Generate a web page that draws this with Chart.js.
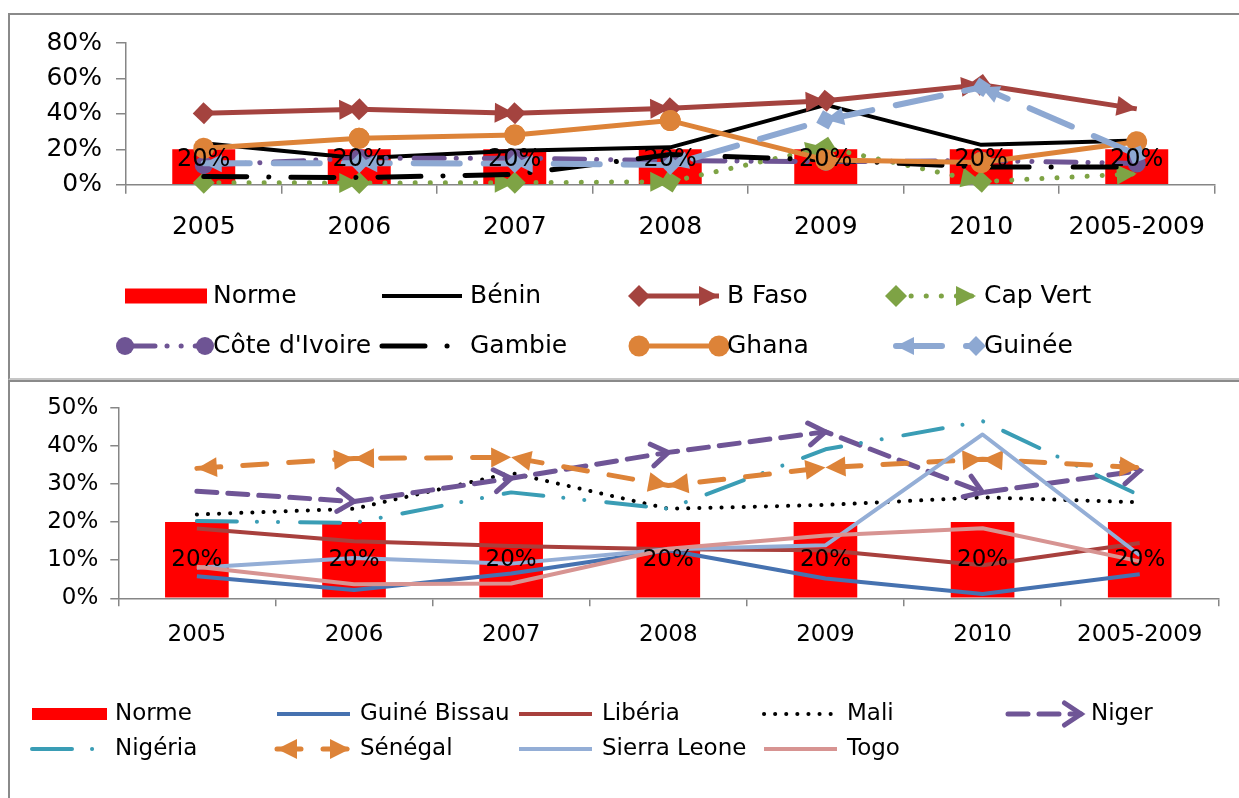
<!DOCTYPE html>
<html>
<head>
<meta charset="utf-8">
<script src="https://cdn.jsdelivr.net/npm/chart.js@4/dist/chart.umd.min.js"></script>
<style>
  html, body { margin: 0; padding: 0; background: #fff; }
  body { width: 1239px; height: 798px; position: relative; overflow: hidden; }
  .panel { position: absolute; box-sizing: border-box; background: #fff; }
  #p1 { left: 8px; top: 13px; width: 1270px; height: 367px;
        border-top: 2px solid #8a8a8a; border-left: 2px solid #8a8a8a; border-bottom: 2px solid #c6c6c6; }
  #p2 { left: 8px; top: 380px; width: 1270px; height: 440px;
        border-top: 2px solid #8a8a8a; border-left: 2px solid #8a8a8a; }
  canvas { position: absolute; left: 0; }
  #c1 { top: 0; width: 1239px; height: 380px; }
  #c2 { top: 382px; width: 1239px; height: 416px; }
</style>
</head>
<body>
<div class="panel" id="p1"></div>
<div class="panel" id="p2"></div>
<canvas id="c1" width="1239" height="380"></canvas>
<canvas id="c2" width="1239" height="416"></canvas>
<script>
// Categories (years) shared by both panels
const years = ['2005', '2006', '2007', '2008', '2009', '2010', '2005-2009'];

// Reference level (bars), in percent
const norme = [20, 20, 20, 20, 20, 20, 20];

// Upper panel series, in percent
const benin      = [23.4, 14.9, 19.2, 21.1, 45.1, 22.5, 24.9];
const bFaso      = [40.4, 42.6, 40.4, 43.2, 47.4, 56.4, 42.8];
const capVert    = [1.1, 1.0, 1.1, 1.7, 21.0, 1.7, 6.2];
const coteIvoire = [11.0, 15.0, 15.0, 13.6, 13.0, 13.6, 12.0];
const gambie     = [4.6, 4.0, 5.8, 17.0, 14.0, 10.0, 10.0];
const ghana      = [20.6, 26.2, 28.1, 36.2, 14.0, 12.5, 24.3];
const guinee     = [12.1, 12.1, 12.0, 11.1, 36.6, 55.0, 17.0];

// Lower panel series, in percent
const guineBissau = [5.8, 2.2, 6.5, 12.6, 5.2, 1.1, 6.3];
const liberia     = [18.3, 15.0, 13.7, 12.9, 12.6, 8.7, 14.5];
const mali        = [22.0, 23.5, 32.9, 23.5, 24.5, 26.5, 25.2];
const niger       = [28.1, 25.4, 31.5, 38.3, 43.7, 27.8, 33.5];
const nigeria     = [20.3, 19.8, 27.8, 23.5, 39.1, 46.5, 27.0];
const senegal     = [34.1, 36.7, 37.0, 29.6, 34.3, 36.5, 34.3];
const sierraLeone = [8.0, 10.6, 9.1, 12.9, 13.9, 43.0, 11.3];
const togo        = [8.3, 3.7, 3.9, 13.0, 16.5, 18.4, 9.7];

// Axis tick values
const topTicks = [0, 20, 40, 60, 80];
const bottomTicks = [0, 10, 20, 30, 40, 50];

const FONT = 'DejaVu Sans';
const AXIS = '#868686';

// ---- shapes drawn at segment ends (begin / end decorations) ----
function drawCap(ctx, kind, x, y, ang, color, lw, size) {
  if (!kind) return;
  ctx.save();
  ctx.translate(x, y);
  ctx.rotate(ang);
  ctx.setLineDash([]);
  ctx.fillStyle = color;
  ctx.strokeStyle = color;
  ctx.beginPath();
  if (kind === 'triangle') {
    const L = size, W = size * 0.5;
    ctx.moveTo(0, 0); ctx.lineTo(-L, -W); ctx.lineTo(-L, W); ctx.closePath(); ctx.fill();
  } else if (kind === 'diamond') {
    const s = size * 0.55;
    ctx.moveTo(s, 0); ctx.lineTo(0, -s); ctx.lineTo(-s, 0); ctx.lineTo(0, s); ctx.closePath(); ctx.fill();
  } else if (kind === 'oval') {
    ctx.arc(0, 0, size * 0.5, 0, Math.PI * 2); ctx.fill();
  } else if (kind === 'open') {
    const L = size * 0.75, W = size * 0.5;
    ctx.lineWidth = lw; ctx.lineJoin = 'miter'; ctx.lineCap = 'round';
    ctx.moveTo(-L, -W); ctx.lineTo(0, 0); ctx.lineTo(-L, W); ctx.stroke();
  }
  ctx.restore();
}

const segmentCaps = {
  id: 'segmentCaps',
  afterDatasetDraw(chart, args) {
    const ds = chart.data.datasets[args.index];
    if (!ds.caps) return;
    const pts = args.meta.data;
    const ctx = chart.ctx;
    for (let i = 0; i < pts.length - 1; i++) {
      const a = pts[i], b = pts[i + 1];
      const ang = Math.atan2(b.y - a.y, b.x - a.x);
      drawCap(ctx, ds.caps.begin, a.x, a.y, ang + Math.PI, ds.borderColor, ds.borderWidth, ds.caps.size);
      drawCap(ctx, ds.caps.end, b.x, b.y, ang, ds.borderColor, ds.borderWidth, ds.caps.size);
    }
  }
};

// value labels on the bars
const barLabels = {
  id: 'barLabels',
  afterDatasetsDraw(chart, args, opts) {
    const ctx = chart.ctx;
    chart.data.datasets.forEach((ds, di) => {
      if (ds.type !== 'bar') return;
      const meta = chart.getDatasetMeta(di);
      meta.data.forEach((bar, i) => {
        ctx.save();
        ctx.font = `${opts.size}px "${FONT}"`;
        ctx.fillStyle = '#000';
        ctx.textAlign = 'center';
        ctx.textBaseline = 'middle';
        const y = opts.position === 'insideEnd' ? bar.y + opts.size * 0.42 : (bar.y + bar.base) / 2;
        ctx.fillText(ds.data[i] + '%', bar.x, y);
        ctx.restore();
      });
    });
  }
};

// legend grid with line samples and their end decorations
const gridLegend = {
  id: 'gridLegend',
  afterDraw(chart, args, opts) {
    const ctx = chart.ctx;
    const dss = chart.data.datasets;
    dss.forEach((ds, i) => {
      const col = i % opts.cols.length;
      const row = Math.floor(i / opts.cols.length);
      const tx = opts.cols[col];
      const y = opts.rows[row];
      const x0 = tx - opts.symStart, x1 = tx - opts.symEnd;
      ctx.save();
      if (ds.type === 'bar') {
        ctx.fillStyle = ds.backgroundColor;
        ctx.fillRect(x0, y - opts.swatchH / 2, x1 - x0 + 2, opts.swatchH);
      } else {
        ctx.strokeStyle = ds.borderColor;
        ctx.lineWidth = ds.borderWidth;
        ctx.lineCap = ds.borderCapStyle || 'butt';
        ctx.setLineDash(ds.borderDash || []);
        ctx.beginPath(); ctx.moveTo(x0, y); ctx.lineTo(x1, y); ctx.stroke();
        if (ds.caps) {
          drawCap(ctx, ds.caps.begin, x0, y, Math.PI, ds.borderColor, ds.borderWidth, ds.caps.size);
          drawCap(ctx, ds.caps.end, x1, y, 0, ds.borderColor, ds.borderWidth, ds.caps.size);
        }
      }
      ctx.restore();
      ctx.save();
      ctx.font = `${opts.size}px "${FONT}"`;
      ctx.fillStyle = '#000';
      ctx.textAlign = 'left';
      ctx.textBaseline = 'middle';
      ctx.fillText(ds.label, tx, y);
      ctx.restore();
    });
  }
};

function lineDs(label, data, color, width, dash, caps, order) {
  return {
    type: 'line', label, data, borderColor: color, backgroundColor: color,
    borderWidth: width, borderDash: dash || [], borderCapStyle: dash ? 'round' : 'butt',
    borderJoinStyle: 'round', pointRadius: 0, fill: false, tension: 0, caps, order
  };
}

function buildChart(canvasId, cfg) {
  return new Chart(document.getElementById(canvasId), {
    type: 'bar',
    data: {
      labels: years,
      datasets: [
        { type: 'bar', label: 'Norme', data: norme, backgroundColor: '#ff0000',
          barPercentage: 0.405, categoryPercentage: 1, order: 100 },
        ...cfg.lines
      ]
    },
    options: {
      responsive: false,
      animation: false,
      layout: { padding: cfg.padding },
      plugins: {
        legend: { display: false },
        tooltip: { enabled: false },
        barLabels: cfg.barLabels,
        gridLegend: cfg.legend
      },
      scales: {
        x: {
          offset: true,
          grid: { drawOnChartArea: false, drawTicks: true, tickLength: cfg.xTickLen, color: AXIS, lineWidth: 1.5, offset: true },
          border: { color: AXIS, width: 1.5 },
          ticks: { font: { family: FONT, size: cfg.tickSize }, color: '#000', padding: cfg.xPad, maxRotation: 0 },
          afterFit: s => { s.height = cfg.xHeight; }
        },
        y: {
          min: cfg.ticks[0], max: cfg.ticks[cfg.ticks.length - 1],
          afterBuildTicks: s => { s.ticks = cfg.ticks.map(v => ({ value: v })); },
          grid: { drawOnChartArea: false, drawTicks: true, tickLength: cfg.yTickLen, color: AXIS, lineWidth: 1.5 },
          border: { color: AXIS, width: 1.5 },
          ticks: { font: { family: FONT, size: cfg.tickSize }, color: '#000', padding: cfg.yPad,
                   callback: v => v + '%' },
          afterFit: s => { s.width = cfg.yWidth; }
        }
      }
    },
    plugins: [segmentCaps, barLabels, gridLegend]
  });
}

// Upper panel
buildChart('c1', {
  lines: [
    lineDs('Bénin', benin, '#000000', 4, null, null, 50),
    lineDs('B Faso', bFaso, '#a4433f', 5, null, { begin: 'diamond', end: 'triangle', size: 20 }, 49),
    lineDs('Cap Vert', capVert, '#7ea345', 5, [0.1, 15], { begin: 'diamond', end: 'triangle', size: 20 }, 48),
    lineDs("Côte d'Ivoire", coteIvoire, '#6e5494', 5, [30, 12, 0.1, 14, 0.1, 14], { begin: 'oval', end: 'oval', size: 18 }, 47),
    lineDs('Gambie', gambie, '#000000', 5, [43, 22, 0.1, 22], null, 46),
    lineDs('Ghana', ghana, '#dd8338', 5, null, { begin: 'oval', end: 'oval', size: 21 }, 45),
    lineDs('Guinée', guinee, '#8da8d2', 6, [46, 24], { begin: 'triangle', end: 'diamond', size: 18 }, 44)
  ],
  ticks: topTicks,
  padding: { left: 0, top: 43, right: 24.5, bottom: 0 },
  xHeight: 195.3, yWidth: 126,
  xTickLen: 9, yTickLen: 10, xPad: 19, yPad: 14, tickSize: 25,
  barLabels: { size: 24, position: 'insideEnd' },
  legend: { cols: [213, 470, 727, 984], rows: [296, 346], symStart: 88, symEnd: 8, swatchH: 15, size: 25 }
});

// Lower panel
buildChart('c2', {
  lines: [
    lineDs('Guiné Bissau', guineBissau, '#4672b0', 4, null, null, 50),
    lineDs('Libéria', liberia, '#a8403d', 4, null, null, 49),
    lineDs('Mali', mali, '#000000', 4, [0.1, 11], null, 48),
    lineDs('Niger', niger, '#6f5596', 5, [20, 11], { begin: null, end: 'open', size: 22 }, 47),
    lineDs('Nigéria', nigeria, '#3a9db5', 4, [40, 20, 0.1, 21, 0.1, 22], null, 46),
    lineDs('Sénégal', senegal, '#dd8338', 5, [24, 22], { begin: 'triangle', end: 'triangle', size: 20 }, 45),
    lineDs('Sierra Leone', sierraLeone, '#94aed6', 4, null, null, 44),
    lineDs('Togo', togo, '#d79492', 4, null, null, 43)
  ],
  ticks: bottomTicks,
  padding: { left: 0, top: 24.7, right: 20.7, bottom: 0 },
  xHeight: 199.7, yWidth: 118.3,
  xTickLen: 8, yTickLen: 8, xPad: 15, yPad: 12, tickSize: 23,
  barLabels: { size: 23, position: 'center' },
  legend: { cols: [115, 360, 602, 847, 1091], rows: [332, 367], symStart: 83, symEnd: 10, swatchH: 12, size: 23 }
});
</script>
</body>
</html>
